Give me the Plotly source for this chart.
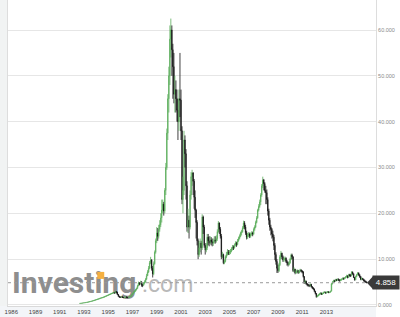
import pandas as pd
import plotly.graph_objects as go

# Monthly closes, Sep 1992 .. May 2016
close = [
    0.35, 0.38, 0.42, 0.45,
    0.48, 0.52, 0.56, 0.60, 0.65, 0.70, 0.76, 0.82, 0.88, 0.95, 1.02, 1.10,
    1.18, 1.25, 1.32, 1.40, 1.50, 1.55, 1.62, 1.70, 1.80, 1.90, 2.00, 2.10,
    2.20, 2.30, 2.40, 2.50, 2.60, 2.70, 2.60, 2.90, 2.80, 2.30, 1.90, 1.70,
    1.70, 1.80, 1.65, 1.60, 1.70, 1.75, 1.70, 1.60, 1.70, 1.80, 1.90, 2.20,
    2.50, 2.80, 3.00, 3.30, 3.60, 4.20, 4.80, 4.60, 5.00, 4.40, 4.30, 4.80,
    5.00, 5.60, 6.40, 7.20, 8.00, 9.20, 9.80, 8.00, 6.80, 9.00, 11.5, 14.0,
    15.7, 15.0, 16.5, 17.5, 19.0, 20.7, 22.0, 20.5, 25.0, 30.0, 37.5, 45.0,
    50.0, 58.0, 60.0, 55.7, 52.0, 46.0, 47.0, 45.0, 42.5, 40.0, 45.0, 44.7,
    38.0, 23.0, 25.0, 36.0, 33.0, 26.0, 17.0, 18.5, 17.0, 24.0, 28.0, 28.8,
    27.0, 23.5, 20.7, 18.0, 14.0, 11.0, 12.5, 13.5, 12.5, 19.2, 17.0, 13.0,
    12.0, 12.5, 14.8, 14.0, 13.5, 14.2, 13.8, 13.5, 13.8, 14.2, 14.0, 14.5,
    16.0, 17.9, 16.5, 15.0, 10.5, 11.0, 9.2, 9.5, 10.5, 11.0, 11.5, 11.3,
    11.5, 11.8, 12.2, 12.7, 12.5, 13.0, 13.5, 13.2, 14.0, 14.5, 15.0, 15.7,
    16.0, 16.8, 17.9, 17.0, 15.8, 14.8, 15.2, 15.5, 15.0, 15.4, 15.7, 15.5,
    16.5, 17.0, 18.0, 19.0, 20.7, 21.5, 22.5, 24.0, 26.0, 27.3, 26.5, 25.0,
    24.5, 23.0, 20.5, 18.5, 17.0, 16.5, 15.5, 14.8, 13.0, 11.0, 9.5, 8.0,
    7.5, 8.8, 10.5, 11.3, 10.5, 9.8, 10.0, 10.2, 9.5, 9.2, 8.8, 9.2,
    10.0, 10.9, 10.5, 7.5, 7.8, 7.0, 7.3, 7.5, 7.0, 7.4, 7.6, 7.4,
    7.2, 6.2, 4.8, 5.2, 4.6, 4.4, 4.3, 4.2, 4.5, 4.0, 3.7, 3.5,
    3.0, 2.5, 1.8, 2.0, 2.2, 2.4, 2.6, 2.3, 2.5, 2.7, 2.8, 2.6,
    2.8, 2.9, 2.7, 2.8, 3.0, 4.6, 5.0, 5.3, 5.2, 5.5, 5.4, 5.6,
    5.5, 5.3, 5.5, 5.6, 5.8, 5.7, 5.9, 6.1, 6.3, 6.0, 6.6, 6.4,
    6.4, 7.2, 6.8, 6.0, 5.5, 6.2, 6.6, 7.0, 6.6, 6.2, 5.6, 5.8,
    5.6, 5.3, 5.2, 5.0, 4.858,
]
high = [
    0.37, 0.40, 0.44, 0.48,
    0.50, 0.55, 0.59, 0.63, 0.68, 0.74, 0.80, 0.86, 0.93, 1.00, 1.08, 1.15,
    1.24, 1.30, 1.38, 1.46, 1.56, 1.62, 1.68, 1.78, 1.88, 1.98, 2.08, 2.18,
    2.30, 2.40, 2.50, 2.62, 2.72, 2.85, 2.80, 3.10, 3.00, 2.90, 2.40, 2.00,
    1.85, 1.90, 1.85, 1.72, 1.80, 1.85, 1.82, 1.75, 1.78, 1.90, 2.00, 2.30,
    2.65, 2.95, 3.20, 3.50, 3.80, 4.40, 5.10, 5.00, 5.30, 5.20, 4.70, 5.00,
    5.40, 5.90, 6.80, 7.60, 8.50, 9.60, 10.5, 10.0, 8.50, 9.50, 11.9, 14.5,
    17.0, 16.8, 17.5, 18.5, 20.0, 23.0, 23.0, 22.5, 25.5, 31.0, 38.5, 46.0,
    52.0, 61.0, 62.5, 61.0, 57.0, 55.0, 50.0, 49.0, 47.0, 45.0, 47.0, 55.0,
    47.0, 39.0, 28.0, 38.0, 37.0, 34.0, 27.0, 21.0, 19.5, 25.0, 29.0, 29.5,
    29.0, 27.5, 25.0, 21.0, 18.5, 14.5, 14.0, 14.5, 14.0, 19.8, 19.5, 17.5,
    13.5, 13.5, 15.5, 15.5, 15.0, 15.0, 14.8, 14.5, 14.5, 15.0, 15.0, 15.2,
    16.5, 18.3, 18.0, 17.0, 15.5, 11.6, 11.2, 9.9, 10.8, 11.6, 12.2, 12.0,
    12.0, 12.2, 12.6, 13.1, 13.0, 13.4, 13.9, 13.8, 14.4, 14.9, 15.4, 16.0,
    16.4, 17.2, 18.4, 18.3, 17.5, 16.2, 15.7, 15.9, 15.8, 15.8, 16.1, 16.0,
    16.9, 17.4, 18.4, 19.4, 21.0, 22.0, 23.0, 24.4, 26.4, 28.0, 27.5, 26.8,
    26.0, 25.2, 23.5, 21.0, 19.0, 17.5, 16.8, 16.2, 15.3, 13.5, 11.5, 10.0,
    8.8, 9.2, 10.9, 11.8, 11.4, 10.8, 10.4, 10.6, 10.4, 9.8, 9.4, 9.6,
    10.3, 11.2, 11.2, 10.6, 8.2, 7.9, 7.6, 7.8, 7.6, 7.7, 7.9, 7.8,
    7.6, 7.4, 6.3, 5.5, 5.3, 4.8, 4.6, 4.5, 4.7, 4.6, 4.1, 3.9,
    3.6, 3.1, 2.6, 2.2, 2.4, 2.6, 2.8, 2.7, 2.7, 2.9, 3.0, 2.9,
    2.9, 3.0, 3.0, 2.9, 3.1, 4.8, 5.2, 5.5, 5.5, 5.7, 5.7, 5.8,
    5.8, 5.6, 5.7, 5.8, 6.0, 6.0, 6.1, 6.3, 6.6, 6.5, 6.8, 6.8,
    6.8, 7.4, 7.3, 6.9, 6.1, 6.4, 6.8, 7.2, 7.1, 6.7, 6.3, 6.0,
    5.9, 5.7, 5.5, 5.3, 5.1,
]
low = [
    0.32, 0.34, 0.37, 0.41,
    0.44, 0.47, 0.50, 0.54, 0.58, 0.63, 0.68, 0.74, 0.80, 0.86, 0.92, 1.00,
    1.06, 1.14, 1.20, 1.28, 1.36, 1.44, 1.50, 1.58, 1.66, 1.76, 1.86, 1.95,
    2.05, 2.15, 2.25, 2.35, 2.45, 2.55, 2.45, 2.55, 2.50, 2.20, 1.80, 1.60,
    1.58, 1.65, 1.58, 1.52, 1.55, 1.65, 1.60, 1.52, 1.55, 1.68, 1.78, 1.88,
    2.15, 2.45, 2.70, 2.90, 3.20, 3.55, 4.10, 4.30, 4.50, 4.00, 3.90, 4.20,
    4.50, 4.90, 5.50, 6.30, 7.00, 7.80, 8.90, 7.50, 6.00, 6.50, 8.80, 11.2,
    13.5, 14.0, 14.5, 16.0, 17.0, 18.0, 20.0, 19.5, 20.0, 24.0, 29.5, 36.0,
    42.0, 48.0, 54.0, 50.0, 45.0, 44.0, 42.0, 42.0, 40.0, 36.0, 38.0, 41.0,
    36.0, 22.0, 20.0, 24.0, 30.0, 23.0, 16.0, 15.7, 14.5, 16.5, 23.0, 26.0,
    24.0, 21.0, 19.0, 14.5, 13.0, 10.0, 10.5, 11.5, 11.0, 12.0, 15.5, 12.5,
    11.0, 11.5, 12.0, 13.0, 12.8, 13.2, 13.0, 12.8, 12.9, 13.4, 13.4, 13.6,
    14.0, 15.8, 15.5, 14.5, 10.0, 10.2, 8.9, 8.9, 9.3, 10.2, 10.8, 10.9,
    10.9, 11.1, 11.5, 11.9, 12.0, 12.3, 12.8, 12.7, 13.0, 13.8, 14.3, 14.8,
    15.2, 15.8, 16.6, 16.5, 15.3, 14.3, 14.4, 14.8, 14.6, 14.7, 15.1, 15.0,
    15.3, 16.2, 16.8, 17.8, 18.8, 20.4, 21.2, 21.8, 23.6, 25.5, 25.0, 24.5,
    22.0, 22.0, 19.5, 17.5, 16.2, 15.2, 14.5, 13.9, 12.0, 9.8, 8.8, 7.0,
    7.0, 7.2, 8.5, 10.0, 10.0, 9.4, 9.4, 9.7, 9.2, 8.6, 8.4, 8.6,
    9.0, 9.8, 10.0, 7.2, 7.1, 6.7, 6.8, 7.1, 6.8, 6.9, 7.2, 7.1,
    6.9, 6.0, 4.6, 4.7, 4.4, 4.1, 4.0, 3.9, 4.0, 3.8, 3.5, 3.3,
    2.8, 2.3, 1.6, 1.7, 1.9, 2.1, 2.3, 2.2, 2.2, 2.4, 2.6, 2.5,
    2.5, 2.7, 2.6, 2.6, 2.7, 3.0, 4.5, 4.9, 5.0, 5.1, 5.2, 5.3,
    5.2, 5.1, 5.2, 5.3, 5.5, 5.5, 5.6, 5.8, 6.0, 5.8, 5.9, 6.2,
    6.1, 6.3, 6.6, 5.9, 5.3, 5.4, 6.1, 6.5, 6.3, 5.9, 5.4, 5.4,
    5.4, 5.1, 5.0, 4.8, 4.75,
]
first_open = 0.33
start_month = "1992-09-01"
last_value = 4.858

tick_dates = ["1987-01-01", "1989-01-01", "1991-01-01", "1993-01-01", "1995-01-01",
              "1997-01-01", "1999-01-01", "2001-01-01", "2003-01-01", "2005-01-01",
              "2007-01-01", "2009-01-01", "2011-01-01", "2013-01-01"]
tick_text = ["1986", "1989", "1991", "1993", "1995", "1997", "1999", "2001",
             "2003", "2005", "2007", "2009", "2011", "2013"]
y_ticks = [0, 10, 20, 30, 40, 50, 60]

dates = pd.date_range(start_month, periods=len(close), freq="MS")
opens = [first_open] + close[:-1]
highs = [max(h, o, c) for h, o, c in zip(high, opens, close)]
lows = [min(l, o, c) for l, o, c in zip(low, opens, close)]

fig = go.Figure()

# watermark on the base (hidden) axes, so candles draw above it
fig.add_trace(go.Scatter(
    x=[0.011], y=[0.067], mode="text", text=["<b>Investing</b>"],
    textposition="middle right", hoverinfo="skip", showlegend=False,
    textfont=dict(family="Roboto", size=30, color="#8e8e8e"),
    xaxis="x", yaxis="y"))
fig.add_trace(go.Scatter(
    x=[0.364], y=[0.064], mode="text", text=[".com"],
    textposition="middle right", hoverinfo="skip", showlegend=False,
    textfont=dict(family="Roboto", size=23, color="#b9b9b9"),
    xaxis="x", yaxis="y"))
fig.add_trace(go.Scatter(
    x=[0.252], y=[0.1], mode="markers", hoverinfo="skip", showlegend=False,
    marker=dict(symbol="square", size=7, color="#f5b041", line=dict(width=0)),
    xaxis="x", yaxis="y"))

fig.add_trace(go.Candlestick(
    x=dates, open=opens, high=highs, low=lows, close=close,
    increasing=dict(line=dict(color="#5cad5c", width=0.8), fillcolor="#5cad5c"),
    decreasing=dict(line=dict(color="#111111", width=0.8), fillcolor="#111111"),
    whiskerwidth=0, showlegend=False, hoverinfo="skip",
    xaxis="x2", yaxis="y2"))

fig.update_layout(
    width=400, height=317,
    margin=dict(l=8, r=24, t=0, b=11, pad=0),
    paper_bgcolor="white", plot_bgcolor="white",
    showlegend=False,
    xaxis=dict(range=[0, 1], visible=False, fixedrange=True),
    yaxis=dict(range=[0, 1], visible=False, fixedrange=True),
    xaxis2=dict(
        type="date", overlaying="x", anchor="y2",
        range=["1986-09-24", "2017-02-02"],
        tickvals=tick_dates, ticktext=tick_text,
        showgrid=False, zeroline=False,
        showline=True, linecolor="#d9d9d9", linewidth=1, mirror=True,
        ticks="", tickfont=dict(family="Liberation Sans", size=6, color="#444444"),
        rangeslider=dict(visible=False),
    ),
    yaxis2=dict(
        overlaying="y", anchor="x2", side="right",
        range=[-0.22, 66.55], tickvals=y_ticks, tickformat=".3f",
        showgrid=True, gridcolor="#e6e6e6", gridwidth=1, zeroline=False,
        showline=True, linecolor="#dddddd", linewidth=1, mirror=True,
        ticks="", tickfont=dict(family="Liberation Sans", size=5.5, color="#8a8a8a"),
    ),
    shapes=[
        dict(type="rect", xref="paper", yref="paper", x0=-8 / 368, x1=0, y0=-11 / 306, y1=1,
             fillcolor="#f1f3f3", line=dict(width=0), layer="below"),
        dict(type="rect", xref="paper", yref="paper", x0=-8 / 368, x1=1, y0=-11 / 306, y1=0,
             fillcolor="#f3f5f8", line=dict(width=0), layer="below"),
        dict(type="line", xref="paper", yref="y2", x0=0, x1=(371 - 8) / 368,
             y0=last_value, y1=last_value, line=dict(color="#999999", width=1, dash="dot")),
        dict(type="path", xref="paper", yref="y2",
             path=f"M {(367 - 8) / 368} {last_value} L {(373 - 8) / 368} {last_value + 1.4} "
                  f"L {(373 - 8) / 368} {last_value - 1.4} Z",
             fillcolor="#3a3a3a", line=dict(width=0)),
    ],
    annotations=[
        dict(xref="paper", yref="y2", x=(372 - 8) / 368, y=last_value, xanchor="left",
             yanchor="middle", text=f"{last_value:.3f}", showarrow=False,
             font=dict(family="Liberation Sans", size=8, color="white"),
             bgcolor="#3a3a3a", width=24, height=11, borderpad=1),
    ],
)

fig.write_html("out.html")
